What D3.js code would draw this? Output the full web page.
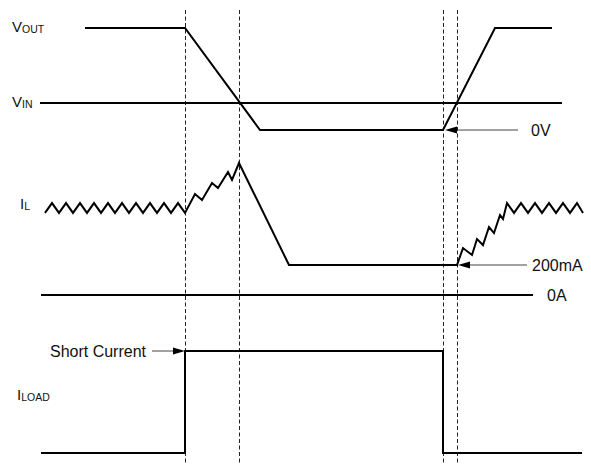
<!DOCTYPE html>
<html>
<head>
<meta charset="utf-8">
<script src="https://cdn.jsdelivr.net/npm/d3@7"></script>
<style>
  html, body { margin: 0; padding: 0; background: #fff; }
  svg { display: block; }
  text { font-family: "Liberation Sans", Arial, sans-serif; fill: #111; }
</style>
</head>
<body>
<svg id="chart" width="591" height="464"></svg>
<script>
// ---------- DATA (time in µs-like units, levels in signal units) ----------
const markerTimes = [145, 199, 403, 417];

// VOUT (V) and VIN (V)
const voutPoints = [[45, 10.2], [145, 10.2], [220, 0], [403, 0], [455, 10.2], [512, 10.2]];
const vinPoints  = [[0, 2.7], [522, 2.7]];

// IL (mA)
const ilPoints = [
  [5, 547], [12, 613], [19, 547], [26, 613], [33, 547], [40, 613], [47, 547], [54, 613],
  [61, 547], [68, 613], [75, 547], [82, 613], [89, 547], [96, 613], [103, 547], [110, 613],
  [117, 547], [124, 613], [131, 547], [138, 613], [145, 547],
  [155, 673], [162, 633], [172, 747], [178, 713], [188, 820], [192, 767], [199, 880],
  [249, 200], [417, 200],
  [423, 313], [432, 267], [437, 373], [443, 333], [449, 453], [454, 413], [460, 533], [463, 507],
  [467, 613], [474, 547], [481, 613], [488, 547], [495, 613], [502, 547], [509, 613],
  [516, 547], [523, 613], [530, 547], [537, 613], [543, 547]
];
const zeroAPoints = [[1, 0], [493, 0]];

// ILOAD (normalised: 0 = none, 1 = short current)
const iloadPoints = [[1, 0], [145, 0], [145, 1], [403, 1], [403, 0], [542, 0]];

// Labels
const signalLabels = ["V", "OUT", "V", "IN", "I", "L", "I", "LOAD"];
const annotations = ["0V", "200mA", "0A", "Short Current"];

// ---------- SCALES ----------
const svg = d3.select("#chart");
const x = d3.scaleLinear().domain([0, 545]).range([40, 585]);
const yV = d3.scaleLinear().domain([0, 10.2]).range([130, 28]);
const yI = d3.scaleLinear().domain([0, 1000]).range([295, 145]);
const yL = d3.scaleLinear().domain([0, 1]).range([453, 351]);

// ---------- MARKER LINES ----------
svg.append("g").selectAll("line").data(markerTimes).join("line")
  .attr("x1", d => Math.round(x(d)) + 0.5).attr("x2", d => Math.round(x(d)) + 0.5)
  .attr("y1", 10).attr("y2", 464)
  .attr("stroke", "#222").attr("stroke-width", 1)
  .attr("stroke-dasharray", "4,2.5");

// ---------- TRACES ----------
function trace(points, ys) {
  svg.append("path")
    .datum(points)
    .attr("d", d3.line().x(d => x(d[0])).y(d => ys(d[1])))
    .attr("fill", "none")
    .attr("stroke", "#000")
    .attr("stroke-width", 2)
    .attr("stroke-linejoin", "miter");
}
trace(vinPoints, yV);
trace(voutPoints, yV);
trace(zeroAPoints, yI);
trace(ilPoints, yI);
trace(iloadPoints, yL);

// ---------- ARROWS ----------
function arrow(x1, x2, yy) {
  const dir = Math.sign(x2 - x1);
  const headLen = 12, headHalf = 3.5;
  svg.append("line")
    .attr("x1", x1).attr("x2", x2 - dir * headLen)
    .attr("y1", yy).attr("y2", yy)
    .attr("stroke", "#444").attr("stroke-width", 1);
  svg.append("path")
    .attr("d", `M${x2},${yy} L${x2 - dir * headLen},${yy - headHalf} L${x2 - dir * headLen},${yy + headHalf} Z`)
    .attr("fill", "#000");
}
arrow(x(478), x(403) + 2, yV(0));
arrow(x(487), x(417) + 1, yI(200));
arrow(x(112), x(145), yL(1));

// ---------- TEXT ----------
function sigLabel(xp, yp, main, sub, mainSize, subSize) {
  const t = svg.append("text").attr("x", xp).attr("y", yp);
  t.append("tspan").attr("font-size", mainSize).text(main);
  t.append("tspan").attr("font-size", subSize).attr("dy", 1).text(sub);
}
sigLabel(12, yV(10.2) + 4, signalLabels[0], signalLabels[1], 15, 10.5);
sigLabel(12, yV(2.7) + 4, signalLabels[2], signalLabels[3], 15, 10.5);
sigLabel(20, 209, signalLabels[4], signalLabels[5], 15, 10.5);
sigLabel(17, 400, signalLabels[6], signalLabels[7], 15, 10.5);

svg.append("text").attr("x", x(491)).attr("y", yV(0) + 6).attr("font-size", 16).text(annotations[0]);
svg.append("text").attr("x", x(492)).attr("y", yI(200) + 6).attr("font-size", 16).text(annotations[1]);
svg.append("text").attr("x", x(507)).attr("y", yI(0) + 6).attr("font-size", 16).text(annotations[2]);
svg.append("text").attr("x", x(106)).attr("y", yL(1) + 6).attr("font-size", 16)
  .attr("text-anchor", "end").text(annotations[3]);
</script>
</body>
</html>
